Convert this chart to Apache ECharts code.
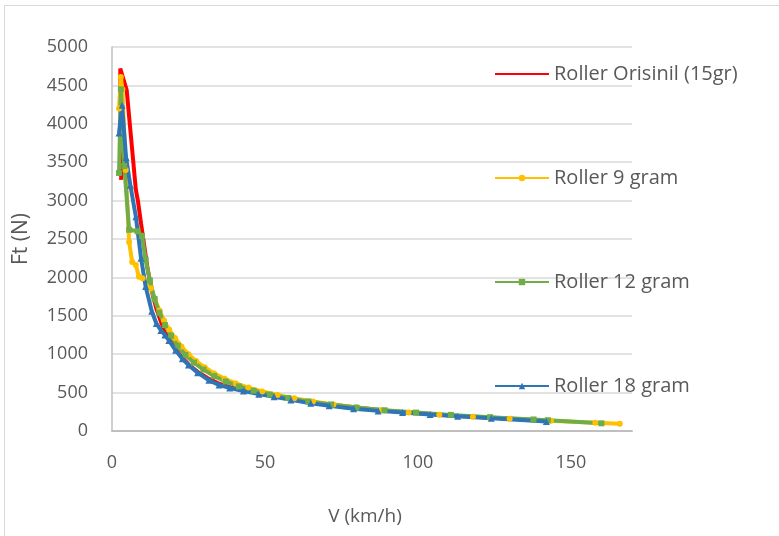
<!DOCTYPE html>
<html>
<head>
<meta charset="utf-8">
<script src="https://cdn.jsdelivr.net/npm/echarts@6/dist/echarts.min.js"></script>
<style>
  html, body { margin: 0; padding: 0; background: #fff; overflow: hidden; }
  .frame {
    position: absolute; left: 4px; top: 5px;
    width: 820px; height: 600px;
    border: 1px solid #d9d9d9;
  }
  .chart { position: absolute; left: 0; top: 0; width: 779px; height: 536px; }
</style>
</head>
<body>
<div class="frame"></div>
<div id="chart" class="chart"></div>
<script>
// Roller Orisinil (15gr)
const vRed = [3.0, 2.7, 4.8, 7.8, 8.5, 9.5, 10.4, 11.6, 13.0, 14.6, 16.3, 18.2, 20.3, 22.6, 25.2, 28.0, 31.2, 34.7, 38.6, 43.0, 47.8, 53.2, 59.2, 65.8, 73.2, 81.4, 90.5, 100.7, 112.0, 124.6, 138.6, 143.0];
const fRed = [3270, 4720, 4440, 3140, 2990, 2700, 2450, 2120, 1820, 1580, 1390, 1230, 1090, 970, 860, 770, 690, 620, 570, 535, 505, 460, 415, 375, 335, 300, 262, 230, 200, 172, 140, 132];

// Roller 9 gram
const vYellow = [2.3, 2.9, 3.4, 4.5, 5.6, 6.6, 7.8, 8.8, 10.0, 12.7, 14.0, 15.5, 17.0, 18.7, 20.6, 22.7, 25.0, 27.5, 30.3, 33.4, 36.8, 40.5, 44.6, 49.1, 54.1, 59.6, 65.7, 72.4, 79.8, 88.0, 97.0, 107.0, 118.0, 130.0, 143.5, 158.0, 166.0];
const fYellow = [4200, 4610, 4450, 3400, 2460, 2200, 2160, 2010, 1990, 1860, 1720, 1570, 1440, 1320, 1210, 1100, 1000, 910, 830, 750, 680, 620, 565, 515, 470, 425, 385, 345, 305, 270, 240, 210, 185, 160, 135, 108, 95];

// Roller 12 gram
const vGreen = [2.3, 2.9, 4.0, 5.6, 8.4, 9.8, 11.0, 12.4, 13.9, 15.5, 17.3, 19.3, 21.5, 24.0, 26.8, 29.9, 33.4, 37.2, 41.5, 46.3, 51.6, 57.6, 64.2, 71.6, 79.9, 89.1, 99.4, 110.8, 123.6, 137.8, 142.5, 160.0];
const fGreen = [3360, 4450, 3450, 2620, 2600, 2540, 2230, 1960, 1720, 1540, 1380, 1240, 1110, 990, 890, 800, 715, 645, 580, 525, 475, 430, 385, 345, 305, 270, 240, 210, 180, 150, 140, 100];

// Roller 18 gram
const vBlue = [2.3, 3.3, 4.6, 6.0, 7.8, 9.5, 11.0, 13.0, 14.5, 16.0, 17.3, 18.6, 20.8, 23.0, 25.0, 28.0, 31.7, 35.0, 38.5, 43.0, 48.0, 53.0, 58.5, 65.0, 71.0, 79.0, 87.0, 95.0, 104.0, 113.0, 124.0, 142.0];
const fBlue = [3880, 4240, 3560, 3200, 2790, 2250, 1880, 1560, 1400, 1310, 1250, 1180, 1050, 940, 860, 760, 660, 600, 560, 520, 480, 445, 405, 360, 330, 290, 262, 240, 215, 192, 165, 125];

const seriesNames = ['Roller Orisinil (15gr)', 'Roller 9 gram', 'Roller 12 gram', 'Roller 18 gram'];
const xTicks = [0, 50, 100, 150];
const yTicks = [0, 500, 1000, 1500, 2000, 2500, 3000, 3500, 4000, 4500, 5000];

const font = 'Open Sans';
const textColor = '#595959';

const pairs = (xs, ys) => xs.map((x, i) => [x, ys[i]]);

const lineSeries = (name, data, color, symbol, symbolSize, markerOpacity) => ({
  name,
  type: 'line',
  data,
  symbol,
  symbolSize,
  showAllSymbol: true,
  lineStyle: { width: 4, color },
  itemStyle: { color, opacity: markerOpacity },
  emphasis: { disabled: true }
});

const chart = echarts.init(document.getElementById('chart'));

const option = {
  backgroundColor: 'transparent',
  animation: false,
  textStyle: { fontFamily: font },
  grid: { left: 112, right: 147, top: 47, bottom: 105 },
  legend: {
    orient: 'vertical',
    left: 489,
    top: 59,
    itemWidth: 54,
    itemHeight: 8,
    itemGap: 84,
    textStyle: { fontFamily: font, fontSize: 20, color: textColor },
    data: seriesNames
  },
  xAxis: {
    type: 'value',
    min: xTicks[0],
    max: 170,
    interval: 50,
    name: 'V (km/h)',
    nameLocation: 'middle',
    nameGap: 76,
    nameTextStyle: { fontFamily: font, fontSize: 19, color: textColor, padding: [0, 14, 0, 0] },
    axisLine: { show: true, lineStyle: { color: '#bfbfbf', width: 2 } },
    axisTick: { show: false },
    splitLine: { show: false },
    axisLabel: {
      fontFamily: font, fontSize: 18, color: textColor, margin: 23,
      formatter: v => (xTicks.indexOf(v) >= 0 ? String(v) : '')
    }
  },
  yAxis: {
    type: 'value',
    min: yTicks[0],
    max: yTicks[yTicks.length - 1],
    interval: 500,
    name: 'Ft (N)',
    nameLocation: 'middle',
    nameGap: 80,
    nameTextStyle: { fontFamily: font, fontSize: 21, color: textColor },
    axisLine: { show: true, lineStyle: { color: '#bfbfbf', width: 1.5 } },
    axisTick: { show: false },
    splitLine: { show: true, lineStyle: { color: '#d9d9d9', width: 1.5 } },
    axisLabel: {
      fontFamily: font, fontSize: 18, color: textColor, margin: 24,
      formatter: v => String(v)
    }
  },
  series: [
    lineSeries(seriesNames[0], pairs(vRed, fRed), '#ff0000', 'none', 0, 0),
    lineSeries(seriesNames[1], pairs(vYellow, fYellow), '#ffc000', 'circle', 6, 1),
    lineSeries(seriesNames[2], pairs(vGreen, fGreen), '#70ad47', 'rect', 6, 1),
    lineSeries(seriesNames[3], pairs(vBlue, fBlue), '#2e75b6', 'triangle', 7, 1)
  ]
};

chart.setOption(option);
</script>
</body>
</html>
